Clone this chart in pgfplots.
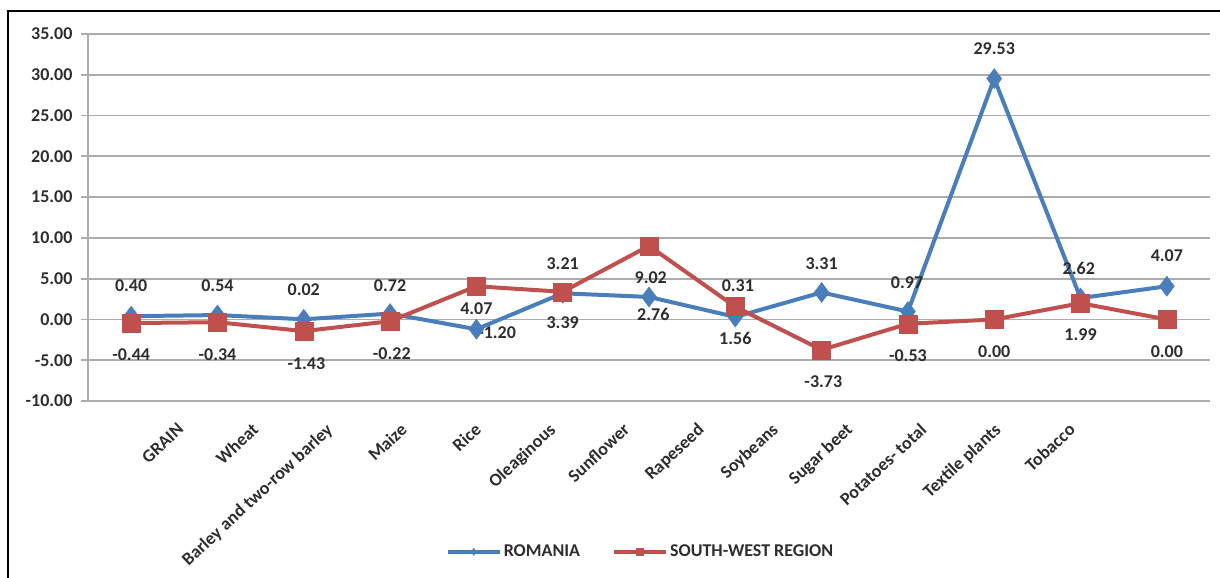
\documentclass[border=0pt]{standalone}
\usepackage{fontspec}
\setmainfont{Carlito}
\usepackage{pgfplots}
\pgfplotsset{compat=1.18}
\definecolor{roblue}{RGB}{74,126,187}
\definecolor{swred}{RGB}{192,80,77}
\definecolor{gridgray}{RGB}{172,172,172}
\definecolor{txt}{RGB}{45,45,45}
\newcommand{\lblfont}{\fontsize{18bp}{20bp}\selectfont\bfseries}
\begin{document}
\begin{tikzpicture}
\path[use as bounding box] (0bp,0bp) rectangle (1220bp,-578bp);
\draw[black, line width=2.5bp] (8bp,-578bp) -- (8bp,-11bp) -- (1220bp,-11bp);
\begin{axis}[
  at={(88bp,-401bp)}, anchor=south west,
  scale only axis, width=1122bp, height=367bp,
  xmin=-0.5, xmax=12.5, ymin=-10, ymax=35,
  clip=false,
  ytick={-10,-5,...,35},
  axis x line=bottom, axis y line=left,
  axis line style={-, gridgray, line width=1.8bp},
  ymajorgrids, grid style={gridgray, line width=1.8bp},
  tick align=outside, major tick length=7bp,
  ytick style={gridgray, line width=1.8bp},
  xtick style={draw=none},
  xtick={0.589,1.450,2.310,3.171,4.030,4.892,5.751,6.611,7.471,8.333,9.192,10.052,10.912},
  xticklabels={GRAIN,Wheat,Barley and two-row barley,Maize,Rice,Oleaginous,Sunflower,Rapeseed,Soybeans,Sugar beet,Potatoes- total,Textile plants,Tobacco},
  xticklabel style={rotate=43, anchor=north east, font=\lblfont, text=txt, inner sep=0pt, xshift=-13.4bp, yshift=-6.4bp},
  yticklabel style={font=\lblfont, text=txt, xshift=-5bp},
  yticklabel={\pgfmathprintnumber[fixed,fixed zerofill,precision=2,assume math mode=true]{\tick}},
  legend style={at={(0.4924,-0.411)}, anchor=center, draw=none, fill=none, font=\lblfont, text=txt,
    legend columns=2, /tikz/every even column/.append style={column sep=30bp}},
  legend cell align=left,
  legend image code/.code={\draw[mark repeat=2,mark phase=2,#1] plot coordinates {(0bp,0bp)(26bp,0bp)(52bp,0bp)};},
  legend image post style={mark size=3.5bp},
]
\addplot[roblue, line width=4bp, mark=diamond*, mark size=10bp, mark options={fill=roblue, line width=0.5bp}]
  coordinates {(0,0.40)(1,0.54)(2,0.02)(3,0.72)(4,-1.20)(5,3.21)(6,2.76)(7,0.31)(8,3.31)(9,0.97)(10,29.53)(11,2.62)(12,4.07)};
\addlegendentry{ROMANIA}
\addplot[swred, line width=4bp, mark=square*, mark size=9bp, mark options={fill=swred, line width=0.5bp}]
  coordinates {(0,-0.44)(1,-0.34)(2,-1.43)(3,-0.22)(4,4.07)(5,3.39)(6,9.02)(7,1.56)(8,-3.73)(9,-0.53)(10,0.00)(11,1.99)(12,0.00)};
\addlegendentry{SOUTH-WEST REGION}
\tikzset{lbl/.style={font=\lblfont, text=txt, inner sep=0pt, anchor=center}}
\node[lbl] at (axis cs:0,4.1) {0.40};
\node[lbl] at (axis cs:0,-4.36) {-0.44};
\node[lbl] at (axis cs:1,4.1) {0.54};
\node[lbl] at (axis cs:1,-4.36) {-0.34};
\node[lbl] at (axis cs:2,3.6) {0.02};
\node[lbl] at (axis cs:2.03,-5.47) {-1.43};
\node[lbl] at (axis cs:3,4.2) {0.72};
\node[lbl] at (axis cs:3.02,-4.24) {-0.22};
\node[lbl] at (axis cs:4,1.28) {4.07};
\node[lbl] at (axis cs:4.24,-1.67) {-1.20};
\node[lbl] at (axis cs:5,6.9) {3.21};
\node[lbl] at (axis cs:5,-0.44) {3.39};
\node[lbl] at (axis cs:6.02,5.1) {9.02};
\node[lbl] at (axis cs:6.05,0.66) {2.76};
\node[lbl] at (axis cs:7.03,4.2) {0.31};
\node[lbl] at (axis cs:7,-2.28) {1.56};
\node[lbl] at (axis cs:8,6.9) {3.31};
\node[lbl] at (axis cs:8.02,-7.67) {-3.73};
\node[lbl] at (axis cs:8.99,4.46) {0.97};
\node[lbl] at (axis cs:9,-4.49) {-0.53};
\node[lbl] at (axis cs:10,33.15) {29.53};
\node[lbl] at (axis cs:10,-4.0) {0.00};
\node[lbl] at (axis cs:10.98,6.3) {2.62};
\node[lbl] at (axis cs:11,-1.9) {1.99};
\node[lbl] at (axis cs:12,7.77) {4.07};
\node[lbl] at (axis cs:12,-4.0) {0.00};
\end{axis}
\end{tikzpicture}
\end{document}
